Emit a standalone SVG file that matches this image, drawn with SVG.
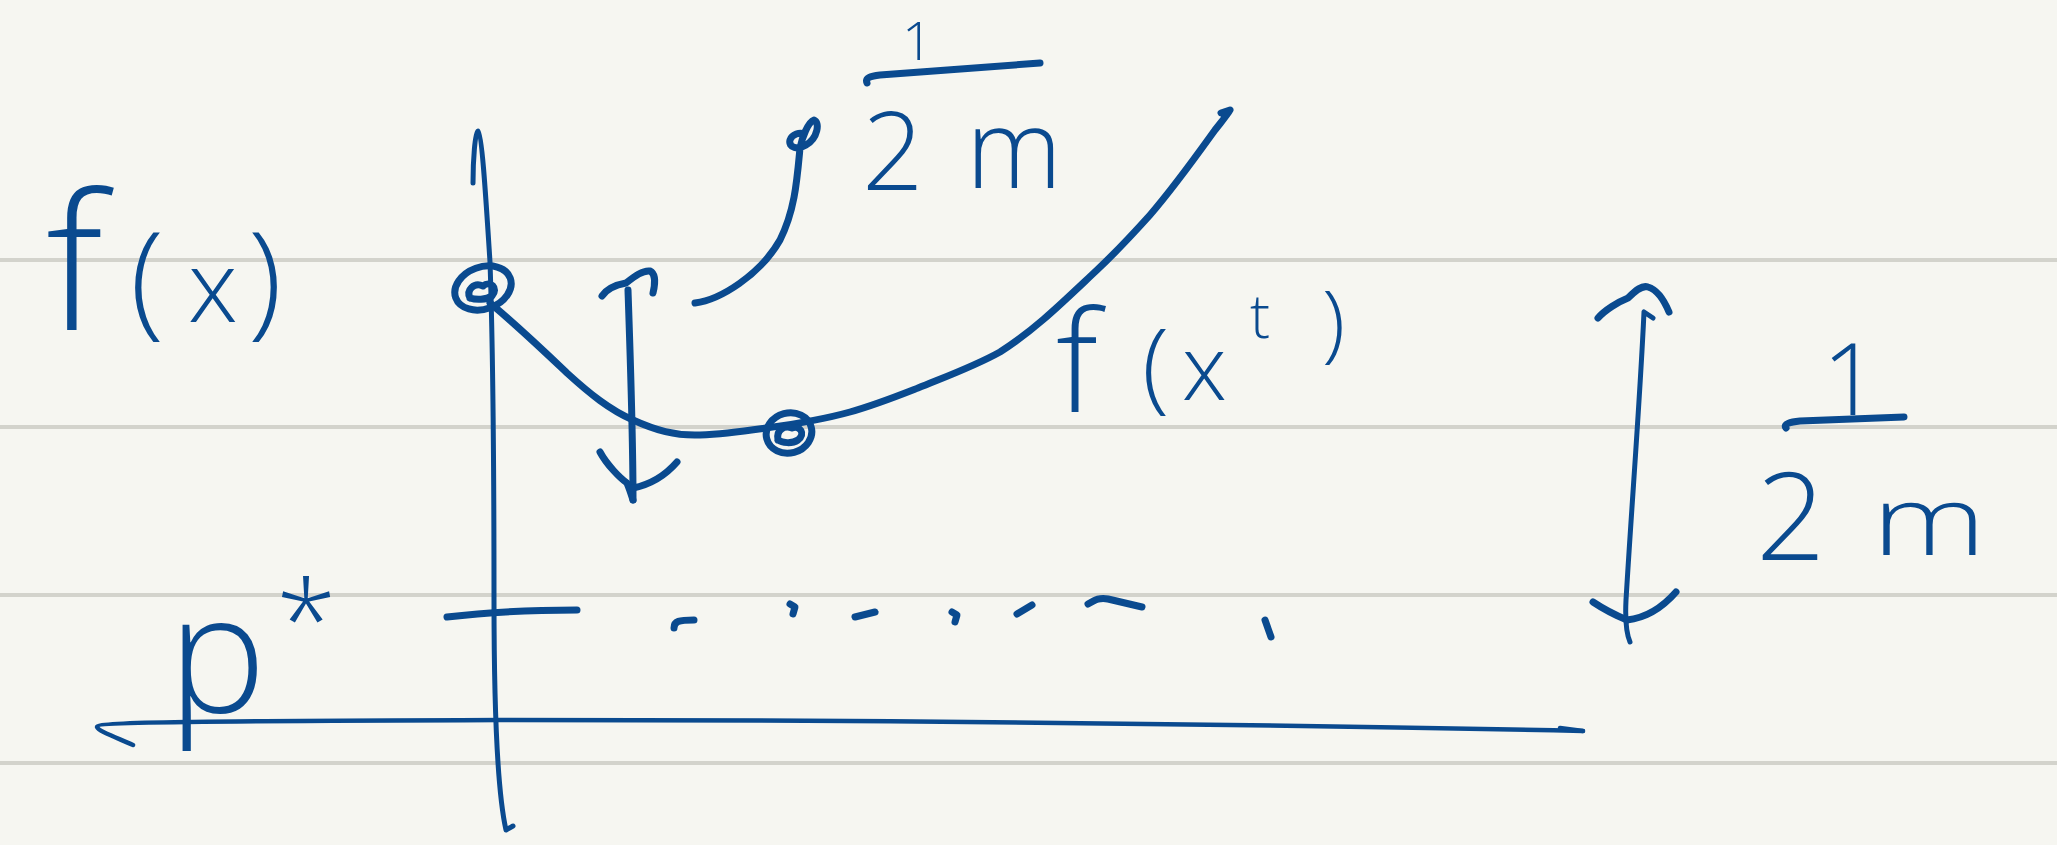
<svg xmlns="http://www.w3.org/2000/svg" width="2057" height="845" viewBox="0 0 2057 845">
<style>
.rule{stroke:#d3d3cc;stroke-width:4;fill:none}
.ink{stroke:#0a4a8f;fill:none;stroke-linecap:round;stroke-linejoin:round}
.w7{stroke-width:7}
.w5{stroke-width:5}
.w4{stroke-width:4.5}
.hw{font-family:"Open Sans","Liberation Sans",Arial,sans-serif;font-weight:300;fill:#0a4a8f}
</style>
<rect x="0" y="0" width="2057" height="845" fill="#f6f6f1"/>
<g id="ruling">
<line class="rule" x1="0" y1="260" x2="2057" y2="260"/>
<line class="rule" x1="0" y1="427" x2="2057" y2="427"/>
<line class="rule" x1="0" y1="595" x2="2057" y2="595"/>
<line class="rule" x1="0" y1="763" x2="2057" y2="763"/>
</g>
<g id="axis-y">
<path class="ink w5" d="M473,183 C473,160 475,133 478,131 C482,133 486,200 490,262 C493,350 494,450 494,600 C494,700 497,790 506,830 L513,826"/>
</g>
<g id="axis-x">
<path class="ink w4" d="M133,745 C115,737 98,731 97,727 C97,722 200,721 500,720 C900,720 1300,725 1583,731"/>
<path class="ink w4" d="M1560,728 L1583,731"/>
</g>
<g id="level-line">
<path class="ink w7" d="M447,617 C480,613 530,610 577,610"/>
<path class="ink w7" d="M674,628 C674,621 679,620 694,620"/>
<path class="ink w7" d="M790,604 L795,607 L793,614"/>
<path class="ink w7" d="M855,617 L875,612"/>
<path class="ink w7" d="M952,612 L957,615 L955,622"/>
<path class="ink w7" d="M1017,614 L1032,605"/>
<path class="ink w7" d="M1088,604 C1095,600 1100,597 1108,599 L1142,607"/>
<path class="ink w7" d="M1265,620 L1271,637"/>
</g>
<g id="curve-f">
<path class="ink w7" d="M490,303 C520,328 545,352 567,373 C590,394 610,410 633,420 C655,430 675,436 700,435 C725,434 745,431 766,428 C795,424 825,419 850,412 C875,405 895,397 918,388 C950,375 975,366 1000,352 C1035,330 1065,300 1097,270 C1115,253 1132,235 1150,215 C1175,186 1197,155 1215,130 C1222,121 1228,114 1230,110 L1221,113"/>
</g>
<g id="point-x">
<ellipse class="ink w7" cx="483" cy="288" rx="29" ry="21" transform="rotate(-20 483 288)"/>
<path class="ink w7" d="M470,298 C466,290 474,282 483,286 C490,280 499,288 492,296 C486,300 476,300 470,298"/>
</g>
<g id="point-xt">
<ellipse class="ink w7" cx="789" cy="433" rx="23" ry="20" transform="rotate(-15 789 433)"/>
<path class="ink w7" d="M778,440 C776,430 784,425 792,428 C800,425 806,434 798,440 C792,444 782,443 778,440"/>
</g>
<g id="label-fx">
<text class="hw" y="330"><tspan x="46" font-size="190">f</tspan><tspan x="130" y="322" font-size="125">(</tspan><tspan x="188" font-size="100">x</tspan><tspan x="248" font-size="125">)</tspan></text>
</g>
<g id="label-fxt">
<text class="hw" y="412"><tspan x="1056" font-size="140">f</tspan><tspan x="1142" y="400" font-size="100">(</tspan><tspan x="1182" font-size="90">x</tspan><tspan x="1250" y="338" font-size="60">t</tspan><tspan x="1322" y="352" font-size="85">)</tspan></text>
</g>
<g id="label-pstar">
<text class="hw" y="712"><tspan x="168" font-size="165">p</tspan><tspan x="276" y="660" font-size="110">*</tspan></text>
</g>
<g id="label-step-top">
<text class="hw" x="902" y="60" font-size="54">1</text>
<path class="ink w7" d="M867,83 C865,78 870,76 880,75 L1040,63"/>
<text class="hw" x="862" y="190" font-size="108">2</text>
<text class="hw" x="966" y="188" font-size="110" textLength="96" lengthAdjust="spacingAndGlyphs">m</text>
</g>
<g id="label-step-right">
<text class="hw" x="1822" y="415" font-size="100">1</text>
<path class="ink w7" d="M1786,428 C1783,424 1790,422 1800,421 L1904,417"/>
<text class="hw" x="1756" y="560" font-size="122">2</text>
<text class="hw" x="1872" y="555" font-size="96" textLength="114" lengthAdjust="spacingAndGlyphs">m</text>
</g>
<g id="connectors">
<path class="ink w7" d="M628,290 C630,350 633,430 633,500"/>
<path class="ink w7" d="M602,296 C606,290 615,285 626,283 C635,276 643,270 650,271 C656,274 655,285 653,293"/>
<path class="ink w7" d="M600,452 C607,465 620,478 627,483 C630,490 632,497 633,500"/>
<path class="ink w7" d="M633,488 C648,485 664,477 677,462"/>
<path class="ink w7" d="M695,303 C720,300 760,275 780,240 C795,210 797,180 800,148 C802,138 808,122 814,120 C820,122 818,138 806,145 C798,150 788,148 790,140 C792,134 800,132 804,134"/>
<path class="ink w5" d="M1653,318 L1644,312 C1640,400 1632,500 1626,600 C1625,620 1627,635 1630,642"/>
<path class="ink w7" d="M1598,318 C1605,310 1618,302 1628,298 C1636,290 1642,285 1648,287 C1658,290 1664,300 1669,312"/>
<path class="ink w7" d="M1593,602 C1602,608 1615,615 1627,620"/>
<path class="ink w7" d="M1627,620 C1645,618 1662,608 1676,592"/>
</g>
</svg>
